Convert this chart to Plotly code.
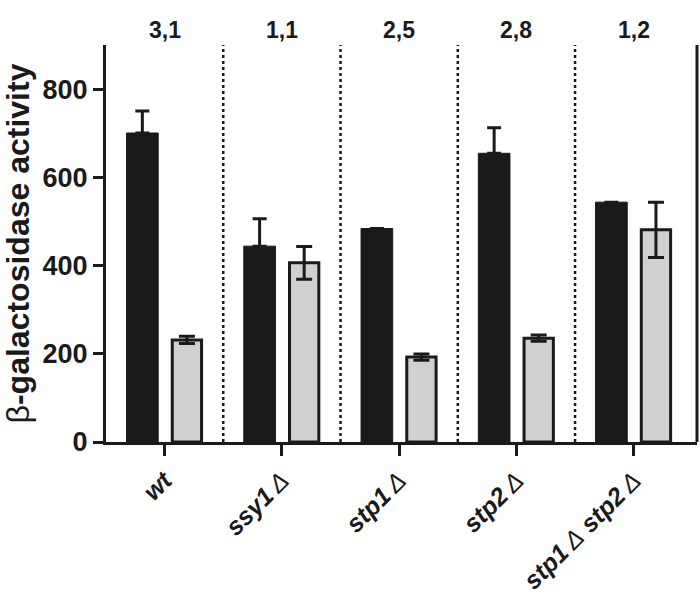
import plotly.graph_objects as go

categories = ["wt", "ssy1Δ", "stp1Δ", "stp2Δ", "stp1Δ stp2Δ"]
tick_labels = [
    "<b><i>wt</i></b>",
    "<b><i>ssy1</i></b>\u2009<i>Δ</i>",
    "<b><i>stp1</i></b>\u2009<i>Δ</i>",
    "<b><i>stp2</i></b>\u2009<i>Δ</i>",
    "<b><i>stp1</i></b>\u2009<i>Δ</i> <b><i>stp2</i></b>\u2009<i>Δ</i>",
]
black_values = [702, 445, 485, 656, 545]
black_err = [50, 62, 0, 58, 0]
gray_values = [232, 407, 193, 236, 482]
gray_err = [8, 37, 7, 7, 63]
ratios = ["3,1", "1,1", "2,5", "2,8", "1,2"]
y_ticks = [0, 200, 400, 600, 800]

xs = list(range(len(categories)))

fig = go.Figure()
fig.add_trace(go.Bar(
    x=xs, y=black_values, width=0.27, offset=-0.325,
    marker=dict(color="#1a1a1a", line=dict(color="#1a1a1a", width=1)),
    error_y=dict(type="data", array=black_err, arrayminus=[0]*len(black_err),
                 symmetric=False, color="#1a1a1a", thickness=3, width=7),
    showlegend=False,
))
fig.add_trace(go.Bar(
    x=xs, y=gray_values, width=0.25, offset=0.065,
    marker=dict(color="#d0d0d0", line=dict(color="#1a1a1a", width=3)),
    error_y=dict(type="data", array=gray_err, color="#1a1a1a", thickness=3, width=8),
    showlegend=False,
))

shapes = []
for i in range(len(categories) - 1):
    shapes.append(dict(type="line", xref="x", yref="paper", x0=i + 0.5, x1=i + 0.5,
                       y0=0, y1=1.0, line=dict(color="#1a1a1a", width=2.5, dash="dot")))
shapes.append(dict(type="line", xref="paper", yref="paper", x0=1, x1=1, y0=0, y1=1.0,
                   line=dict(color="#1a1a1a", width=3)))
fig.update_layout(shapes=shapes)

for i, r in enumerate(ratios):
    fig.add_annotation(x=i, y=1.075, xref="x", yref="paper", text=f"<b>{r}</b>",
                       showarrow=False, font=dict(size=23, color="#1a1a1a"))

fig.add_annotation(x=-0.149, y=0.5, xref="paper", yref="paper",
                   text="β<b>-galactosidase activity</b>", textangle=-90,
                   showarrow=False, xanchor="center", yanchor="middle",
                   font=dict(size=32, color="#1a1a1a"))

fig.update_layout(
    width=700, height=602,
    margin=dict(l=106, r=3, t=45, b=160),
    paper_bgcolor="white", plot_bgcolor="white",
    barmode="overlay",
    font=dict(family="Liberation Sans, Arial, sans-serif", color="#1a1a1a"),
    xaxis=dict(
        range=[-0.5, 4.54], tickvals=xs, ticktext=tick_labels, tickangle=-45,
        showline=True, linecolor="#1a1a1a", linewidth=3, ticks="outside",
        ticklen=11, tickwidth=3, tickcolor="#1a1a1a", showgrid=False, zeroline=False,
        tickfont=dict(size=25, color="#1a1a1a"), automargin=False,
    ),
    yaxis=dict(
        range=[0, 902], tickvals=y_ticks,
        ticktext=[f"<b>{v}</b>" for v in y_ticks],
        showline=True, linecolor="#1a1a1a", linewidth=3, ticks="outside",
        ticklen=10, tickwidth=3, tickcolor="#1a1a1a", showgrid=False, zeroline=False,
        tickfont=dict(size=27, color="#1a1a1a"), automargin=False,
    ),
)

fig.write_html("out.html", config={"displayModeBar": False},
               post_script="document.body.style.margin='0';")
